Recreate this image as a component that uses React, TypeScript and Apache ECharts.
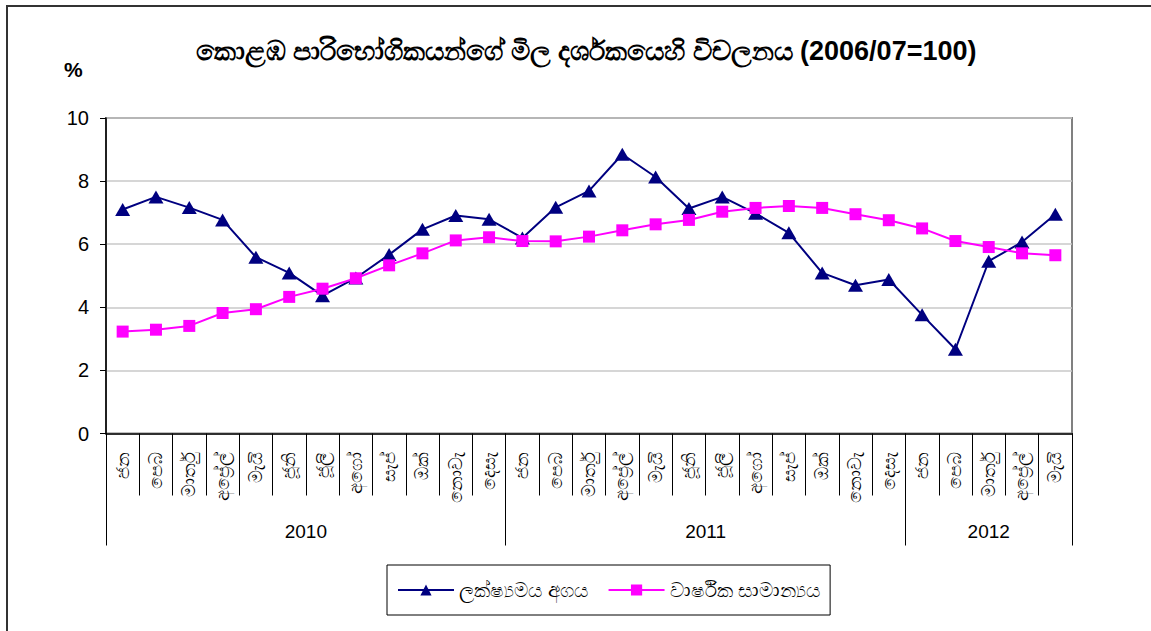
import React, { useEffect, useRef } from "react";
import * as echarts from "echarts";

const title = "කොළඹ පාරිභෝගිකයන්ගේ මිල දර්ශකයෙහි විචලනය (2006/07=100)";
const monthLabels = [
  "ජන", "පෙබ", "මාර්තු", "අප්‍රේල්", "මැයි", "ජූනි", "ජූලි", "අගෝ", "සැප්", "ඔක්", "නොවැ", "දෙසැ",
  "ජන", "පෙබ", "මාර්තු", "අප්‍රේල්", "මැයි", "ජූනි", "ජූලි", "අගෝ", "සැප්", "ඔක්", "නොවැ", "දෙසැ",
  "ජන", "පෙබ", "මාර්තු", "අප්‍රේල්", "මැයි",
];
const years = ["2010", "2011", "2012"];
const monthsPerYear = [12, 12, 5];
const pointName = "ලක්ෂ්‍යමය අගය";
const averageName = "වාර්ෂික සාමාන්‍යය";
const pointValues = [
  7.1, 7.5, 7.16, 6.77, 5.59, 5.09, 4.37, 4.93, 5.67, 6.47, 6.91, 6.79,
  6.2, 7.17, 7.69, 8.85, 8.13, 7.13, 7.5, 6.98, 6.36, 5.09, 4.7, 4.88,
  3.76, 2.67, 5.46, 6.07, 6.95,
];
const averageValues = [
  3.23, 3.29, 3.41, 3.82, 3.94, 4.33, 4.59, 4.92, 5.33, 5.71, 6.12, 6.22,
  6.1, 6.09, 6.24, 6.44, 6.63, 6.77, 7.03, 7.15, 7.21, 7.15, 6.95, 6.76,
  6.5, 6.1, 5.91, 5.71, 5.65,
];
const yTicks = { min: 0, max: 10, interval: 2 };

const FONT = "'Liberation Sans', Arial, 'Noto Sans', sans-serif";

export default function App() {
  const ref = useRef<HTMLDivElement>(null);
  useEffect(() => {
    if (!ref.current) return;
    const chart = echarts.init(ref.current, undefined, { renderer: "svg" });

    const totalMonths = monthsPerYear.reduce((a, b) => a + b, 0);
    const slots: string[] = new Array(totalMonths * 2 + 1).fill("");
    const boundaries = new Set<number>([0]);
    let acc = 0;
    monthsPerYear.forEach((n, i) => {
      slots[acc * 2 + n] = years[i];
      acc += n;
      boundaries.add(acc * 2);
    });

    chart.setOption({
      animation: false,
      textStyle: { fontFamily: FONT },
      title: {
        text: title,
        left: 581,
        textAlign: "center",
        top: 32,
        textStyle: { fontSize: 27, fontWeight: "bold", color: "#000", fontFamily: FONT },
      },
      graphic: [
        {
          type: "rect",
          shape: { x: 7, y: 6, width: 1300, height: 800 },
          style: { fill: "none", stroke: "#333", lineWidth: 2 },
          silent: true,
        },
        {
          type: "text",
          x: 64,
          y: 59,
          style: { text: "%", fill: "#000", font: `bold 21px ${FONT}` },
        },
      ],
      legend: {
        left: 387,
        top: 565,
        padding: [15, 10, 15, 10],
        itemGap: 20,
        itemWidth: 56,
        itemHeight: 14,
        borderColor: "#000",
        borderWidth: 1,
        textStyle: { fontSize: 20, color: "#000", fontFamily: FONT },
        data: [pointName, averageName],
      },
      grid: {
        left: 106,
        top: 118,
        right: 79,
        bottom: 197.5,
        show: true,
        borderColor: "#808080",
        borderWidth: 2,
      },
      xAxis: [
        {
          type: "category",
          data: monthLabels,
          boundaryGap: true,
          axisLine: { lineStyle: { color: "#000", width: 1.5 } },
          axisTick: { show: true, interval: 0, length: 62, lineStyle: { color: "#000" } },
          axisLabel: { interval: 0, rotate: 90, margin: 18, fontSize: 18, color: "#000", fontFamily: FONT },
          splitLine: { show: false },
        },
        {
          type: "category",
          data: slots,
          boundaryGap: false,
          position: "bottom",
          axisLine: { show: false },
          axisTick: {
            show: true,
            length: 112,
            interval: (i: number) => boundaries.has(i),
            lineStyle: { color: "#000" },
          },
          axisLabel: {
            interval: (i: number, v: string) => v !== "",
            margin: 88,
            fontSize: 19,
            color: "#000",
            fontFamily: FONT,
          },
          splitLine: { show: false },
        },
      ],
      yAxis: {
        type: "value",
        min: yTicks.min,
        max: yTicks.max,
        interval: yTicks.interval,
        axisLine: { show: true, lineStyle: { color: "#000", width: 1.5 } },
        axisTick: { show: true, length: 6, lineStyle: { color: "#000" } },
        axisLabel: { fontSize: 20, color: "#000", margin: 17, fontFamily: FONT },
        splitLine: { lineStyle: { color: "#c8c8c8", width: 1.5 } },
      },
      series: [
        {
          name: pointName,
          type: "line",
          xAxisIndex: 0,
          data: pointValues,
          symbol: "triangle",
          symbolSize: [15, 13],
          lineStyle: { color: "#000080", width: 2 },
          itemStyle: { color: "#000080" },
          z: 3,
        },
        {
          name: averageName,
          type: "line",
          xAxisIndex: 0,
          data: averageValues,
          symbol: "rect",
          symbolSize: 12,
          lineStyle: { color: "#ff00ff", width: 2 },
          itemStyle: { color: "#ff00ff" },
          z: 4,
        },
      ],
    });
    return () => chart.dispose();
  }, []);
  return (
    <div
      ref={ref}
      style={{ position: "fixed", left: 0, top: 0, width: 1151, height: 631, background: "#fff" }}
    />
  );
}
